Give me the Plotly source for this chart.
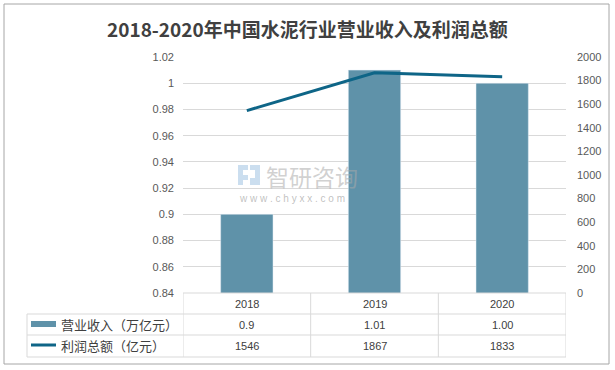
import plotly.graph_objects as go

title = "2018-2020年中国水泥行业营业收入及利润总额"
years = ["2018", "2019", "2020"]
revenue = [0.90, 1.01, 1.00]          # 万亿元
revenue_labels = ["0.9", "1.01", "1.00"]
profit = [1546, 1867, 1833]           # 亿元
revenue_name = "营业收入（万亿元）"
profit_name = "利润总额（亿元）"
left_ticks = [0.84, 0.86, 0.88, 0.90, 0.92, 0.94, 0.96, 0.98, 1.00, 1.02]
left_tick_text = ["0.84", "0.86", "0.88", "0.9", "0.92", "0.94", "0.96", "0.98", "1", "1.02"]

W, H = 615, 370
PL, PR, PT, PB = 183, 566, 57, 293
BAR_C = "#5F92A9"
LINE_C = "#0E6587"
GRID_C = "#D9D9D9"
FONT = "Noto Sans CJK SC"
NUMF = "Liberation Sans, Arial"

def px(x):
    return (x - PL) / (PR - PL)

def py(y):
    return (PB - y) / (PB - PT)

fig = go.Figure()
fig.add_trace(go.Bar(x=years, y=revenue, name=revenue_name, marker_color=BAR_C,
                     width=0.41, yaxis="y", showlegend=False))
fig.add_trace(go.Scatter(x=years, y=profit, name=profit_name, mode="lines",
                         line=dict(color=LINE_C, width=3), yaxis="y2", showlegend=False))

shapes = []
shapes.append(dict(type="rect", xref="paper", yref="paper", x0=px(4), x1=px(609), y0=py(364), y1=py(4),
                   line=dict(color="#A6A6A6", width=1), layer="below"))
for yy, x0 in [(PB, PL), (314, 27), (335, 27), (357, 27)]:
    shapes.append(dict(type="line", xref="paper", yref="paper", x0=px(x0), x1=px(PR), y0=py(yy), y1=py(yy),
                       line=dict(color=GRID_C, width=1)))
shapes.append(dict(type="line", xref="paper", yref="paper", x0=px(27), x1=px(27), y0=py(314), y1=py(357),
                   line=dict(color=GRID_C, width=1)))
for i in range(len(years) + 1):
    shapes.append(dict(type="line", xref="x", yref="paper", x0=i - 0.5, x1=i - 0.5, y0=py(PB), y1=py(357),
                       line=dict(color=GRID_C, width=1)))
shapes.append(dict(type="rect", xref="paper", yref="paper", x0=px(31), x1=px(56), y0=py(327), y1=py(321),
                   fillcolor=BAR_C, line=dict(width=0)))
shapes.append(dict(type="line", xref="paper", yref="paper", x0=px(31), x1=px(56), y0=py(345), y1=py(345),
                   line=dict(color=LINE_C, width=3)))
for (x0, x1, y0, y1) in [(238, 248, 165, 170), (238, 243, 170, 185), (243, 248, 175, 180),
                         (250, 260, 165, 170), (255, 260, 170, 185), (250, 255, 178, 185)]:
    shapes.append(dict(type="rect", xref="paper", yref="paper", x0=px(x0), x1=px(x1), y0=py(y1), y1=py(y0),
                       fillcolor="rgba(160,195,225,0.55)", line=dict(width=0)))

ann = []
ann.append(dict(text="<b>" + title + "</b>", xref="paper", yref="paper", x=px(307), y=py(28),
                showarrow=False, font=dict(family=FONT, size=19, color="#404040"),
                xanchor="center", yanchor="middle"))
for i, yr in enumerate(years):
    for txt, yy in [(yr, 303.5), (revenue_labels[i], 324.5), (str(profit[i]), 346)]:
        ann.append(dict(text=txt, xref="x", yref="paper", x=i, y=py(yy), showarrow=False,
                        xanchor="center", yanchor="middle",
                        font=dict(family=NUMF, size=11, color="#404040")))
ann.append(dict(text=revenue_name, xref="paper", yref="paper", x=px(59), y=py(324), showarrow=False,
                xanchor="left", yanchor="middle", font=dict(family=FONT, size=13, color="#404040")))
ann.append(dict(text=profit_name, xref="paper", yref="paper", x=px(59), y=py(345.5), showarrow=False,
                xanchor="left", yanchor="middle", font=dict(family=FONT, size=13, color="#404040")))
ann.append(dict(text="智研咨询", xref="paper", yref="paper", x=px(264), y=py(176), showarrow=False,
                xanchor="left", yanchor="middle", font=dict(family=FONT, size=23, color="rgba(170,170,170,0.55)")))
ann.append(dict(text="w w w . c h y x x . c o m", xref="paper", yref="paper", x=px(237), y=py(198),
                showarrow=False, xanchor="left", yanchor="middle",
                font=dict(family=NUMF, size=10, color="rgba(150,150,150,0.6)")))

fig.update_layout(
    width=W, height=H,
    margin=dict(l=PL, r=W - PR, t=PT, b=H - PB, autoexpand=False),
    paper_bgcolor="white", plot_bgcolor="white",
    shapes=shapes, annotations=ann,
    xaxis=dict(type="category", showticklabels=False, showgrid=False, zeroline=False,
               showline=False, range=[-0.5, 2.5], automargin=False),
    yaxis=dict(range=[0.84, 1.02], tickvals=left_ticks, ticktext=left_tick_text,
               showgrid=True, gridcolor=GRID_C, gridwidth=1, zeroline=False, showline=False,
               tickfont=dict(family=NUMF, size=11, color="#595959"),
               ticklabelstandoff=8, automargin=False),
    yaxis2=dict(range=[0, 2000], dtick=200, overlaying="y", side="right", showgrid=False,
                zeroline=False, showline=False,
                tickfont=dict(family=NUMF, size=11, color="#595959"),
                ticklabelstandoff=10, automargin=False),
    showlegend=False,
)

fig.write_html("out.html", config={"displayModeBar": False},
               post_script="document.body.style.margin='0';document.body.style.overflow='hidden';")
